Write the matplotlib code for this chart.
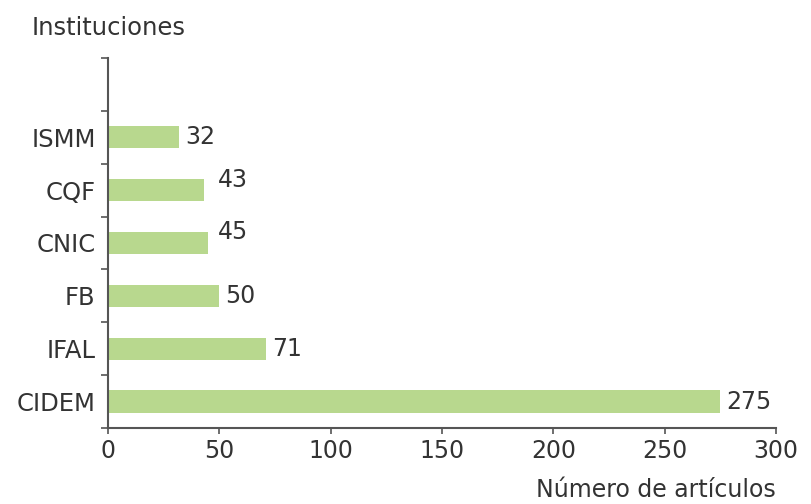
import matplotlib
matplotlib.use("Agg")
import matplotlib.pyplot as plt
import numpy as np

categories = ["CIDEM", "IFAL", "FB", "CNIC", "CQF", "ISMM"]
values = [275, 71, 50, 45, 43, 32]
x_ticks = [0, 50, 100, 150, 200, 250, 300]

bar_color = "#B8D88E"
text_color = "#333333"
axis_color = "#555555"

fig = plt.figure(figsize=(8.11, 5.04), dpi=100)
ax = fig.add_axes([0.1332, 0.1508, 0.9568 - 0.1332, 0.885 - 0.1508])

y = np.arange(len(categories))
ax.barh(y, values, height=0.42, color=bar_color)

ax.set_xlim(0, 300)
ax.set_ylim(-0.5, len(categories) + 0.5)
ax.set_xticks(x_ticks)
ax.set_xticklabels([str(t) for t in x_ticks], fontsize=17, color=text_color)
ax.set_yticks(y)
ax.set_yticklabels(categories, fontsize=17.5, color=text_color)
ax.tick_params(axis="y", which="major", length=0, pad=9)
ax.set_yticks(np.arange(-0.5, len(categories) + 1, 1.0), minor=True)
ax.tick_params(axis="y", which="minor", length=5, direction="out", color=axis_color, width=1.2)
ax.tick_params(axis="x", length=4, direction="out", color=axis_color, width=1.2, pad=4)

for s in ["top", "right"]:
    ax.spines[s].set_visible(False)
for s in ["left", "bottom"]:
    ax.spines[s].set_color(axis_color)
    ax.spines[s].set_linewidth(1.5)

offsets = {"CQF": (4, 0.2), "CNIC": (2, 0.2)}
for yi, cat, v in zip(y, categories, values):
    dx, dy = offsets.get(cat, (0, 0))
    ax.text(v + 2.5 + dx, yi + dy, str(v), va="center", ha="left", fontsize=17, color=text_color)

fig.text(32 / 811, 1 - 28 / 504, "Instituciones", fontsize=17.5, color=text_color, va="center", ha="left")
fig.text(776 / 811, 1 - 490 / 504, "Número de artículos", fontsize=17, color=text_color, va="center", ha="right")

fig.savefig("out.png", dpi=100)
